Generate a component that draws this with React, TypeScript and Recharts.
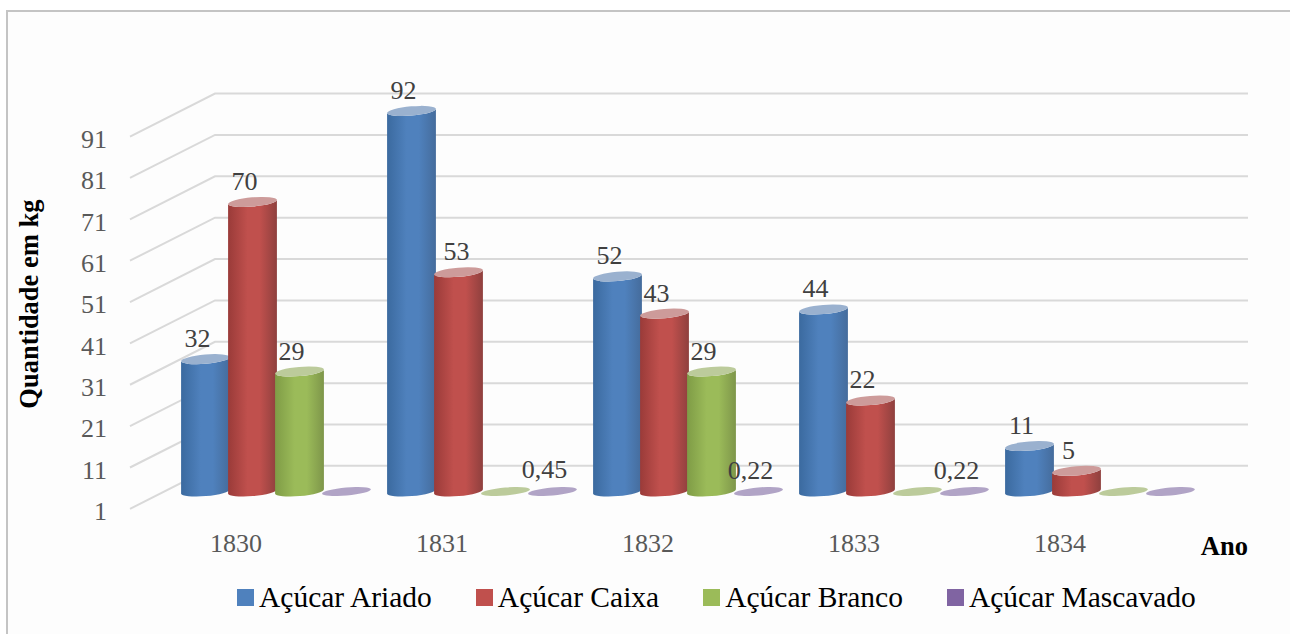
import { Bar, BarChart, CartesianGrid, Label, LabelList, Legend, XAxis, YAxis } from 'recharts';

const anos = ['1830', '1831', '1832', '1833', '1834'];
const acucarAriado = [32, 92, 52, 44, 11];
const acucarCaixa = [70, 53, 43, 22, 5];
const acucarBranco = [29, 0, 29, 0, 0];
const acucarMascavado = [0, 0.45, 0.22, 0.22, 0];
const yTicks = [1, 11, 21, 31, 41, 51, 61, 71, 81, 91];

const data = anos.map((ano, i) => ({
  ano,
  ariado: acucarAriado[i],
  caixa: acucarCaixa[i],
  branco: acucarBranco[i],
  mascavado: acucarMascavado[i],
}));

const FONT = '"Liberation Serif", serif';

// offset of the back wall relative to the front edge of the floor
const DEPTH_X = 85;
const DEPTH_Y = 43;
// cylinders stand half way into the depth
const BAR_DX = 40;
const BAR_DY = -21.5;
const RX = 24.5;
const RY = 4.6;
const TILT = 5;

const palette: Record<string, { dark: string; mid: string; edge: string; top: string }> = {
  ariado: { dark: '#3b6a9f', mid: '#4f81bd', edge: '#456c9c', top: '#9ab1cf' },
  caixa: { dark: '#9a3b39', mid: '#c0504d', edge: '#8f403e', top: '#cd9b9a' },
  branco: { dark: '#7f9c46', mid: '#9bbb59', edge: '#7e964a', top: '#bccb9b' },
  mascavado: { dark: '#604a7b', mid: '#8064a2', edge: '#604a7b', top: '#b1a4c6' },
};

function Cylinder(props: any) {
  const { x, y, width, height, seriesKey, payload } = props;
  const colors = palette[seriesKey];
  const cx = x + width / 2 + BAR_DX;
  const topY = y + BAR_DY;
  const bottomY = y + height + BAR_DY;
  const rad = (TILT * Math.PI) / 180;
  const ex = RX * Math.cos(rad);
  const ey = RX * Math.sin(rad);

  // anything under the axis minimum only shows as a flat disc on the floor
  if (payload[seriesKey] <= 1) {
    return <ellipse cx={cx} cy={bottomY} rx={RX} ry={RY - 0.6} fill={colors.top} transform={`rotate(${-TILT} ${cx} ${bottomY})`} />;
  }

  const body = [
    `M ${cx - ex} ${topY + ey}`,
    `L ${cx - ex} ${bottomY + ey}`,
    `A ${RX} ${RY} ${-TILT} 0 0 ${cx + ex} ${bottomY - ey}`,
    `L ${cx + ex} ${topY - ey}`,
    `A ${RX} ${RY} ${-TILT} 0 1 ${cx - ex} ${topY + ey}`,
    'Z',
  ].join(' ');

  return (
    <g>
      <path d={body} fill={`url(#cyl-${seriesKey})`} />
      <ellipse cx={cx} cy={topY} rx={RX} ry={RY} fill={colors.top} transform={`rotate(${-TILT} ${cx} ${topY})`} />
    </g>
  );
}

function ValueLabel(props: any) {
  const { x, y, width, height, value, seriesKey, index } = props;
  if (!value) return null;
  const top = Math.min(y, y + height);
  // the 53 sits clear of the tall blue cylinder next to it
  const nudge = seriesKey === 'caixa' && index === 1 ? 6 : 0;
  return (
    <text
      x={x + width / 2 + BAR_DX - 8 + nudge}
      y={top + BAR_DY - 18}
      textAnchor="middle"
      dominantBaseline="middle"
      fontFamily={FONT}
      fontSize={26}
      fill="#404040"
    >
      {String(value).replace('.', ',')}
    </text>
  );
}

function WallLine(props: any) {
  const { x1, y1, x2 } = props;
  const front = x1 - 3;
  return (
    <polyline
      key={props.key}
      points={`${front},${y1} ${front + DEPTH_X},${y1 - DEPTH_Y} ${x2 + DEPTH_X},${y1 - DEPTH_Y}`}
      fill="none"
      stroke="#d9d9d9"
      strokeWidth={2}
    />
  );
}

function LegendRow({ payload }: any) {
  return (
    <div style={{ display: 'flex', fontFamily: FONT, fontSize: 29.5, color: '#000', lineHeight: '30px', whiteSpace: 'nowrap' }}>
      {payload.map((item: any) => (
        <div key={item.value} style={{ display: 'flex', alignItems: 'center', marginRight: 44 }}>
          <span style={{ width: 17, height: 17, background: item.color, marginRight: 5, display: 'inline-block' }} />
          {item.value}
        </div>
      ))}
    </div>
  );
}

const series = [
  { key: 'ariado', name: 'Açúcar Ariado' },
  { key: 'caixa', name: 'Açúcar Caixa' },
  { key: 'branco', name: 'Açúcar Branco' },
  { key: 'mascavado', name: 'Açúcar Mascavado' },
];

export default function App() {
  return (
    <div style={{ position: 'absolute', left: 0, top: 0, width: 1290, height: 634, background: '#fff' }}>
      <div
        style={{
          position: 'absolute',
          left: 6,
          top: 10,
          width: 1284,
          height: 624,
          boxSizing: 'border-box',
          background: '#fdfdfd',
          borderLeft: '2px solid #c4c4c4',
          borderTop: '2px solid #c4c4c4',
        }}
      />
      <BarChart
        width={1290}
        height={634}
        data={data}
        margin={{ top: 95.2, right: 127, bottom: 0, left: 0 }}
        barSize={47}
        barGap={0}
        style={{ position: 'absolute', left: 0, top: 0 }}
      >
        <defs>
          {series.map((s) => (
            <linearGradient key={s.key} id={`cyl-${s.key}`} x1="0" y1="0" x2="1" y2="0">
              <stop offset="0%" stopColor={palette[s.key].dark} />
              <stop offset="40%" stopColor={palette[s.key].mid} />
              <stop offset="65%" stopColor={palette[s.key].mid} />
              <stop offset="100%" stopColor={palette[s.key].edge} />
            </linearGradient>
          ))}
        </defs>
        <CartesianGrid vertical={false} syncWithTicks horizontal={(p: any) => <WallLine {...p} />} />
        <XAxis
          dataKey="ano"
          height={91}
          axisLine={false}
          tickLine={false}
          tickSize={0}
          tickMargin={21}
          tick={{ fontFamily: FONT, fontSize: 26, fill: '#595959' }}
        >
          <Label
            value="Ano"
            position="insideBottomRight"
            dx={90}
            dy={-44}
            style={{ fontFamily: FONT, fontSize: 26.5, fontWeight: 'bold', fill: '#000' }}
          />
        </XAxis>
        <YAxis
          width={133}
          domain={[1, 101]}
          ticks={yTicks}
          interval={0}
          axisLine={false}
          tickLine={false}
          tickSize={0}
          tickMargin={26}
          tick={{ fontFamily: FONT, fontSize: 26, fill: '#595959', dy: 2 }}
        >
          <Label
            value="Quantidade em kg"
            angle={-90}
            position="insideLeft"
            offset={29}
            style={{ fontFamily: FONT, fontSize: 26.5, fontWeight: 'bold', fill: '#000', textAnchor: 'middle' }}
          />
        </YAxis>
        <Legend
          content={<LegendRow />}
          itemSorter={null}
          wrapperStyle={{ left: 237, top: 582, width: 1040, height: 30 }}
        />
        {series.map((s) => (
          <Bar
            key={s.key}
            dataKey={s.key}
            name={s.name}
            fill={palette[s.key].mid}
            isAnimationActive={false}
            shape={(p: any) => <Cylinder {...p} seriesKey={s.key} />}
          >
            <LabelList dataKey={s.key} content={(p: any) => <ValueLabel {...p} seriesKey={s.key} />} />
          </Bar>
        ))}
      </BarChart>
    </div>
  );
}
